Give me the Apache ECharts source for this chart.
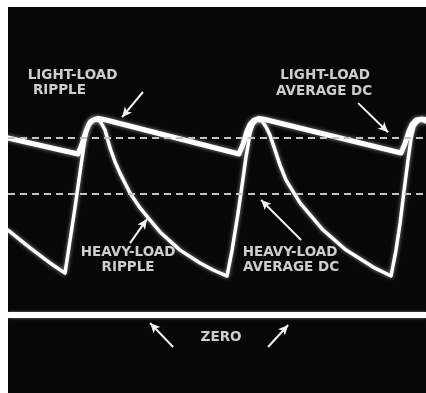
<!DOCTYPE html>
<html>
<head>
<meta charset="utf-8">
<script src="https://cdn.jsdelivr.net/npm/echarts@6/dist/echarts.min.js"></script>
<style>
  html, body { margin: 0; padding: 0; background: #ffffff; }
  #scope { width: 426px; height: 393px; }
</style>
</head>
<body>
<div id="scope"></div>
<script>
// Capacitor-input filter ripple, light load vs heavy load.
// Time in ms (120 Hz ripple, one cycle ~8.3 ms); voltage relative to peak (1.0).

const lightLoadTime = [0, 3.62, 3.83, 4.04, 4.19, 4.40, 4.66, 4.97,
  11.95, 12.16, 12.36, 12.52, 12.73, 12.99, 13.30,
  20.33, 20.54, 20.74, 20.90, 21.11, 21.37, 21.62];
const lightLoadVolts = [0.908, 0.826, 0.877, 0.944, 0.979, 1.000, 1.008, 1.003,
  0.826, 0.877, 0.944, 0.979, 1.000, 1.008, 1.003,
  0.831, 0.882, 0.944, 0.979, 1.000, 1.005, 1.003];

const heavyLoadTime = [0, 1.14, 2.17, 2.95, 3.21, 3.47, 3.72, 3.93, 4.09, 4.24, 4.50, 4.76,
  5.02, 5.28, 5.54, 5.79, 6.31, 6.83, 7.35, 7.86, 8.90, 9.93, 10.61, 11.33,
  11.59, 11.90, 12.16, 12.31, 12.52, 12.67, 12.88, 13.14, 13.35, 13.55, 13.81, 14.07,
  14.38, 15.11, 16.30, 17.49, 18.88, 19.81,
  20.07, 20.28, 20.49, 20.69, 20.85, 21.00, 21.21, 21.42, 21.62];
const heavyLoadVolts = [0.436, 0.344, 0.267, 0.215, 0.385, 0.554, 0.728, 0.872, 0.959, 0.995, 1.005, 0.995,
  0.949, 0.856, 0.785, 0.728, 0.626, 0.549, 0.487, 0.426, 0.333, 0.267, 0.231, 0.200,
  0.333, 0.523, 0.703, 0.810, 0.933, 0.979, 1.000, 0.995, 0.964, 0.923, 0.846, 0.769,
  0.692, 0.574, 0.436, 0.333, 0.246, 0.200,
  0.333, 0.472, 0.641, 0.795, 0.908, 0.969, 0.995, 1.000, 0.990];

// Average DC levels and the zero trace
const lightLoadAverage = 0.908;
const heavyLoadAverage = 0.618;
const zeroLevel = 0;

const timeRange = [0, 21.62];
const voltRange = [-0.4, 1.58];

const pair = (xs, ys) => xs.map((x, i) => [x, ys[i]]);

// Captions: text, time, volts (centre of the text)
const captions = [
  ['LIGHT-LOAD', 3.34, 1.228],
  ['RIPPLE', 2.66, 1.151],
  ['LIGHT-LOAD', 16.40, 1.228],
  ['AVERAGE DC', 16.35, 1.149],
  ['HEAVY-LOAD', 6.21, 0.323],
  ['RIPPLE', 6.21, 0.246],
  ['HEAVY-LOAD', 14.59, 0.323],
  ['AVERAGE DC', 14.64, 0.246],
  ['ZERO', 11.02, -0.113]
];

// Pointer arrows: tail [t, v] -> head [t, v]
const pointers = [
  [[6.98, 1.144], [5.90, 1.015]],
  [[18.11, 1.087], [19.66, 0.938]],
  [[6.31, 0.369], [7.19, 0.492]],
  [[15.16, 0.385], [13.09, 0.590]],
  [[8.54, -0.164], [7.35, -0.041]],
  [[13.45, -0.164], [14.49, -0.051]]
];

const chart = echarts.init(document.getElementById('scope'), null, { renderer: 'canvas' });

const traceStyle = (w) => ({
  color: '#ffffff',
  width: w,
  cap: 'round',
  join: 'round',
  shadowBlur: 4,
  shadowColor: 'rgba(255,255,255,0.55)'
});

chart.setOption({
  animation: false,
  backgroundColor: '#ffffff',
  grid: {
    left: 8, top: 7, right: 0, bottom: 0,
    show: true, backgroundColor: '#070707', borderWidth: 0
  },
  xAxis: {
    type: 'value', min: timeRange[0], max: timeRange[1], show: false,
    splitLine: { show: false }
  },
  yAxis: {
    type: 'value', min: voltRange[0], max: voltRange[1], show: false,
    splitLine: { show: false }
  },
  series: [
    {
      name: 'levels',
      type: 'line',
      data: [],
      silent: true,
      markLine: {
        silent: true,
        symbol: 'none',
        label: { show: false },
        data: [
          { yAxis: lightLoadAverage, lineStyle: { color: '#c4c4c4', width: 2, type: [7, 5] } },
          { yAxis: heavyLoadAverage, lineStyle: { color: '#c4c4c4', width: 2, type: [7, 5] } },
          { yAxis: zeroLevel, lineStyle: { color: '#ffffff', width: 6, type: 'solid',
              shadowBlur: 3, shadowColor: 'rgba(255,255,255,0.5)' } }
        ]
      }
    },
    {
      name: 'Heavy-load ripple',
      type: 'line',
      data: pair(heavyLoadTime, heavyLoadVolts),
      showSymbol: false,
      smooth: false,
      lineStyle: traceStyle(3.5),
      z: 3
    },
    {
      name: 'Light-load ripple',
      type: 'line',
      data: pair(lightLoadTime, lightLoadVolts),
      showSymbol: false,
      smooth: false,
      lineStyle: traceStyle(5),
      z: 4
    },
    {
      name: 'captions',
      type: 'scatter',
      symbolSize: 0,
      silent: true,
      z: 6,
      data: captions.map(c => ({ name: c[0], value: [c[1], c[2]] })),
      label: {
        show: true,
        position: 'inside',
        formatter: p => p.name,
        color: '#ffffff',
        textBorderWidth: 0,
        fontFamily: 'DejaVu Sans',
        fontWeight: 'bold',
        fontSize: 13.5
      },
      markLine: {
        silent: true,
        symbol: ['none', 'arrow'],
        symbolSize: [7, 10],
        label: { show: false },
        lineStyle: { color: '#f2f2f2', width: 2, type: 'solid' },
        data: pointers.map(p => [{ coord: p[0] }, { coord: p[1] }])
      }
    }
  ]
});
</script>
</body>
</html>
